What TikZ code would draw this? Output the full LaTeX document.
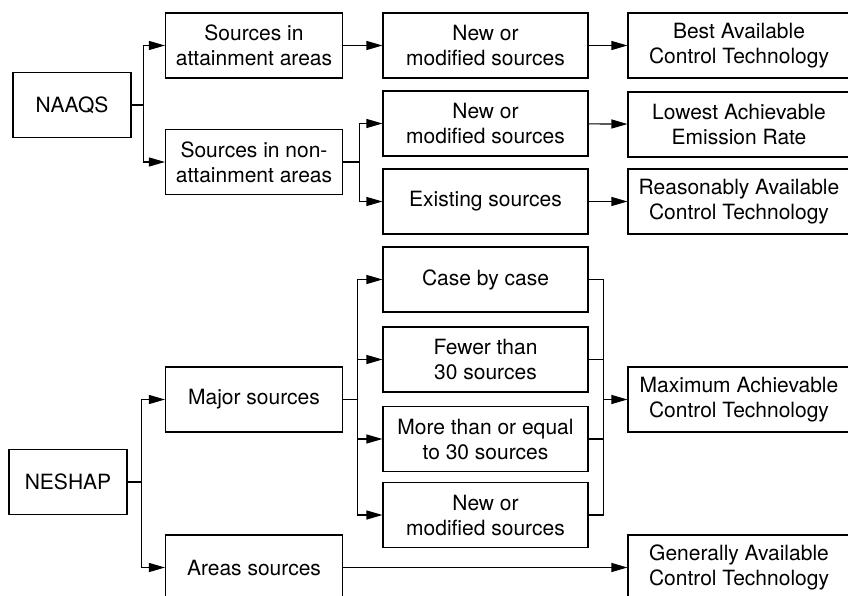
\documentclass[tikz,border=0pt]{standalone}
\usepackage{fontspec}
\setmainfont{TeX Gyre Heros}
\usetikzlibrary{arrows.meta}
\tikzset{
  reg box/.style={
    draw, line width=1.1pt, minimum height=65pt, inner sep=2pt,
    align=center, font=\fontsize{21}{25}\selectfont
  },
  reg line/.style={line width=1.1pt},
  reg arr/.style={-{Triangle[length=16pt, width=9pt]}, line width=1.1pt}
}

\begin{document}
\begin{tikzpicture}[x=1pt, y=-1pt]
  \useasboundingbox (0,0) rectangle (848,596);
  \clip (0,0) rectangle (848,596);

  % NAAQS
  \node[reg box, minimum width=118pt] (naaqs) at (72,105) {NAAQS};
  \node[reg box, minimum width=177pt] (attain) at (254,45.5)
    {Sources in\\attainment areas};
  \node[reg box, minimum width=177pt] (nonattain) at (254,162)
    {Sources in non-\\attainment areas};
  \node[reg box, minimum width=205pt] (newmodA) at (485.5,45.5)
    {New or\\modified sources};
  \node[reg box, minimum width=205pt] (newmodB) at (485.5,123.5)
    {New or\\modified sources};
  \node[reg box, minimum width=205pt] (existing) at (485.5,201.5)
    {Existing sources};
  \node[reg box, minimum width=222pt] (bact) at (739,45.5)
    {Best Available\\Control Technology};
  \node[reg box, minimum width=222pt] (laer) at (739,124.5)
    {Lowest Achievable\\Emission Rate};
  \node[reg box, minimum width=222pt] (ract) at (739,201.5)
    {Reasonably Available\\Control Technology};

  \draw[reg arr] (naaqs.east) -- ++(12,0) |- (attain.west);
  \draw[reg arr] (naaqs.east) -- ++(12,0) |- (nonattain.west);
  \draw[reg arr] (attain) -- (newmodA);
  \draw[reg arr] (nonattain.east) -- ++(16,0) |- (newmodB.west);
  \draw[reg arr] (nonattain.east) -- ++(16,0) |- (existing.west);
  \draw[reg arr] (newmodA) -- (bact);
  \draw[reg arr] (newmodB) -- (laer);
  \draw[reg arr] (existing) -- (ract);

  % NESHAP
  \node[reg box, minimum width=118pt] (neshap) at (68,482) {NESHAP};
  \node[reg box, minimum width=177pt] (major) at (254,399.5) {Major sources};
  \node[reg box, minimum width=177pt] (areas) at (254,567.5) {Areas sources};
  \node[reg box, minimum width=205pt] (case) at (485.5,279.5) {Case by case};
  \node[reg box, minimum width=205pt] (fewer) at (485.5,359.5)
    {Fewer than\\30 sources};
  \node[reg box, minimum width=205pt] (more) at (485.5,439)
    {More than or equal\\to 30 sources};
  \node[reg box, minimum width=205pt] (newmodC) at (485.5,515)
    {New or\\modified sources};
  \node[reg box, minimum width=222pt] (mact) at (739,399.5)
    {Maximum Achievable\\Control Technology};
  \node[reg box, minimum width=222pt] (gact) at (739,567.5)
    {Generally Available\\Control Technology};

  \draw[reg arr] (neshap.east) -- ++(14,0) |- (major.west);
  \draw[reg arr] (neshap.east) -- ++(14,0) |- (areas.west);
  \foreach \sub in {case,fewer,more,newmodC}
    \draw[reg arr] (major.east) -- ++(14,0) |- (\sub.west);
  \coordinate (mjoin) at ([xshift=15pt]case.east |- mact.west);
  \foreach \sub in {case,fewer,more,newmodC}
    \draw[reg line] (\sub.east) -| (mjoin);
  \draw[reg arr] (mjoin) -- (mact.west);
  \draw[reg arr] (areas) -- (gact);
\end{tikzpicture}
\end{document}
